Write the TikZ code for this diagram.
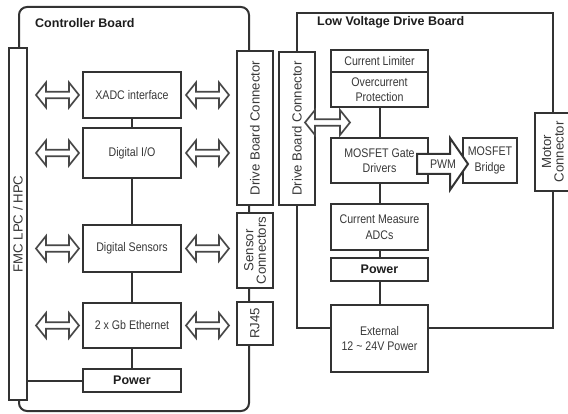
\documentclass[tikz,border=0pt]{standalone}
\usepackage{fontspec}
\setmainfont{Liberation Sans}
\newfontfamily\narrowf[FakeStretch=0.85]{Liberation Sans}
\usetikzlibrary{calc,backgrounds}
\definecolor{ink}{HTML}{333333}
\definecolor{txt}{HTML}{383838}
\definecolor{ttl}{HTML}{1E1E1E}
\newcommand\dblarrow[2]{%
  \draw[dblar] let \p1=#1, \p2=#2 in
    (\x1,\y1) -- (\x1+10pt,\y1+12.5pt) -- (\x1+10pt,\y1+3.3pt) -- (\x2-10pt,\y1+3.3pt)
    -- (\x2-10pt,\y1+12.5pt) -- (\x2,\y1) -- (\x2-10pt,\y1-12.5pt) -- (\x2-10pt,\y1-3.3pt)
    -- (\x1+10pt,\y1-3.3pt) -- (\x1+10pt,\y1-12.5pt) -- cycle;}
\begin{document}
\begin{tikzpicture}[x=1pt,y=-1pt,
  blk/.style={draw=ink, line width=2pt, fill=white, inner sep=0pt, text=txt,
    font=\narrowf\fontsize{12.5}{15.5}\selectfont, align=center},
  pwrbox/.style={blk, font=\bfseries\fontsize{12.5}{15}\selectfont, text=ttl},
  vbox/.style={draw=ink, line width=2pt, fill=white, inner sep=0pt, minimum width=36pt},
  vlab/.style={rotate=90, font=\fontsize{13.2}{12.5}\selectfont, text=txt, align=center, inner sep=0pt},
  title/.style={font=\bfseries\fontsize{12.5}{15}\selectfont, text=ttl, anchor=west, inner sep=0pt},
  wire/.style={draw=ink, line width=2pt},
  dblar/.style={draw=ink!90, line width=1.7pt, fill=white, line join=miter},
  pwmar/.style={draw=ink, line width=2pt, fill=white, line join=miter},
]
\clip (0,0) rectangle (568,414);

% coordinates of board outlines
\coordinate (cbtl) at (19,7);
\coordinate (cbbr) at (249,411);
\coordinate (lvtl) at (297,13);
\coordinate (lvtr) at (553,13);
\coordinate (lvbl) at (297,328);
\coordinate (lvbr) at (553,328);

% titles
\node[title] (cbt) at (35,23.5) {Controller Board};
\node[title] (lvt) at (317,22) {Low Voltage Drive Board};

% controller board blocks
\node[vbox, minimum width=18pt, minimum height=352pt] (fmc) at (18,224) {};
\node[vlab] (fmct) at (fmc.center) {FMC LPC / HPC};
\node[blk, minimum width=98pt, minimum height=46pt] (xadc) at (132,95) {XADC interface};
\node[blk, minimum width=98pt, minimum height=50pt] (dio) at (132,153) {Digital I/O};
\node[blk, minimum width=98pt, minimum height=47pt] (ds) at (132,248.5) {Digital Sensors};
\node[blk, minimum width=98pt, minimum height=45pt] (eth) at (132,325.5) {2 x Gb Ethernet};
\node[pwrbox, minimum width=98pt, minimum height=23pt] (pwra) at (132,380.5) {Power};
\node[vbox, minimum height=154pt] (dbca) at (255,128) {};
\node[vlab] (dbcat) at (dbca.center) {Drive Board Connector};
\node[vbox, minimum height=75pt] (sc) at (255,250.5) {};
\node[vlab] (sct) at (sc.center) {Sensor\\Connectors};
\node[vbox, minimum height=43pt] (rj) at (255,323.5) {};
\node[vlab] (rjt) at (rj.center) {RJ45};

% low voltage drive board blocks
\node[vbox, minimum height=153pt] (dbcb) at (297,128.5) {};
\node[vlab] (dbcbt) at (dbcb.center) {Drive Board Connector};
\node[blk, minimum width=97pt, minimum height=22pt] (cl) at (379.5,61) {Current Limiter};
\node[blk, minimum width=97pt, minimum height=35pt] (op) at (379.5,89.5) {Overcurrent\\Protection};
\node[blk, minimum width=97pt, minimum height=45pt] (gate) at (379.5,160.5) {MOSFET Gate\\Drivers};
\node[blk, minimum width=54pt, minimum height=45pt] (bridge) at (490,160.5) {MOSFET\\Bridge};
\node[vbox, minimum height=78pt] (mc) at (553,152) {};
\node[vlab] (mct) at (mc.center) {Motor\\Connector};
\node[blk, minimum width=97pt, minimum height=46pt] (cm) at (379.5,227) {Current Measure\\ADCs};
\node[pwrbox, minimum width=97pt, minimum height=23pt] (pwrb) at (379.5,269.5) {Power};
\node[blk, minimum width=97pt, minimum height=67pt] (ext) at (379.5,338.5) {External\\12 \textasciitilde{} 24V Power};

% lines behind the blocks
\begin{scope}[on background layer]
  \fill[white] (0,0) rectangle (568,414);
  \draw[wire, rounded corners=8pt] (cbtl) rectangle (cbbr);
  \draw[wire] (ext.west |- lvbl) -- (lvbl) -- (lvtl) -- (lvtr) -- (lvbr) -- (ext.east |- lvbr);
  \draw[wire] (xadc.south) -- (dio.north);
  \draw[wire] (dio.south) -- (ds.north);
  \draw[wire] (ds.south) -- (eth.north);
  \draw[wire] (eth.south) -- (pwra.north);
  \draw[wire] (fmc.east |- pwra.west) -- (pwra.west);
  \draw[wire] (op.south) -- (gate.north);
  \draw[wire] (gate.south) -- (cm.north);
  \draw[wire] (cm.south) -- (pwrb.north);
  \draw[wire] (pwrb.south) -- (ext.north);
\end{scope}

% double arrows of the controller board
\dblarrow{($(fmc.east |- xadc.center)+(8,0)$)}{($(xadc.west)+(-3,0)$)}
\dblarrow{($(fmc.east |- dio.center)+(8,0)$)}{($(dio.west)+(-3,0)$)}
\dblarrow{($(fmc.east |- ds.center)+(8,0)$)}{($(ds.west)+(-3,0)$)}
\dblarrow{($(fmc.east |- eth.center)+(8,0)$)}{($(eth.west)+(-3,0)$)}
\dblarrow{($(xadc.east)+(4,0)$)}{($(dbca.west |- xadc.center)+(-7,0)$)}
\dblarrow{($(dio.east)+(4,0)$)}{($(dbca.west |- dio.center)+(-7,0)$)}
\dblarrow{($(ds.east)+(4,0)$)}{($(sc.west |- ds.center)+(-7,0)$)}
\dblarrow{($(eth.east)+(4,0)$)}{($(rj.west |- eth.center)+(-7,0)$)}

% double arrow of the drive board
\coordinate (lvar) at ($(op.south west)!0.5!(gate.north west)$);
\dblarrow{($(lvar)+(-25,0)$)}{($(lvar)+(20,0)$)}

% PWM arrow
\draw[pwmar] let \p1=($(gate.east)+(-12,3.5)$), \p2=($(bridge.west)+(6,3.5)$) in
  (\x1,\y1+10pt) -- (\x2-18pt,\y1+10pt) -- (\x2-18pt,\y1+26pt) -- (\x2,\y1)
  -- (\x2-18pt,\y1-26pt) -- (\x2-18pt,\y1-10pt) -- (\x1,\y1-10pt) -- cycle;
\node[font=\narrowf\fontsize{12.5}{15}\selectfont, text=txt, inner sep=0pt] (pwmt) at ($(gate.east)+(14,3.5)$) {PWM};
\end{tikzpicture}
\end{document}
